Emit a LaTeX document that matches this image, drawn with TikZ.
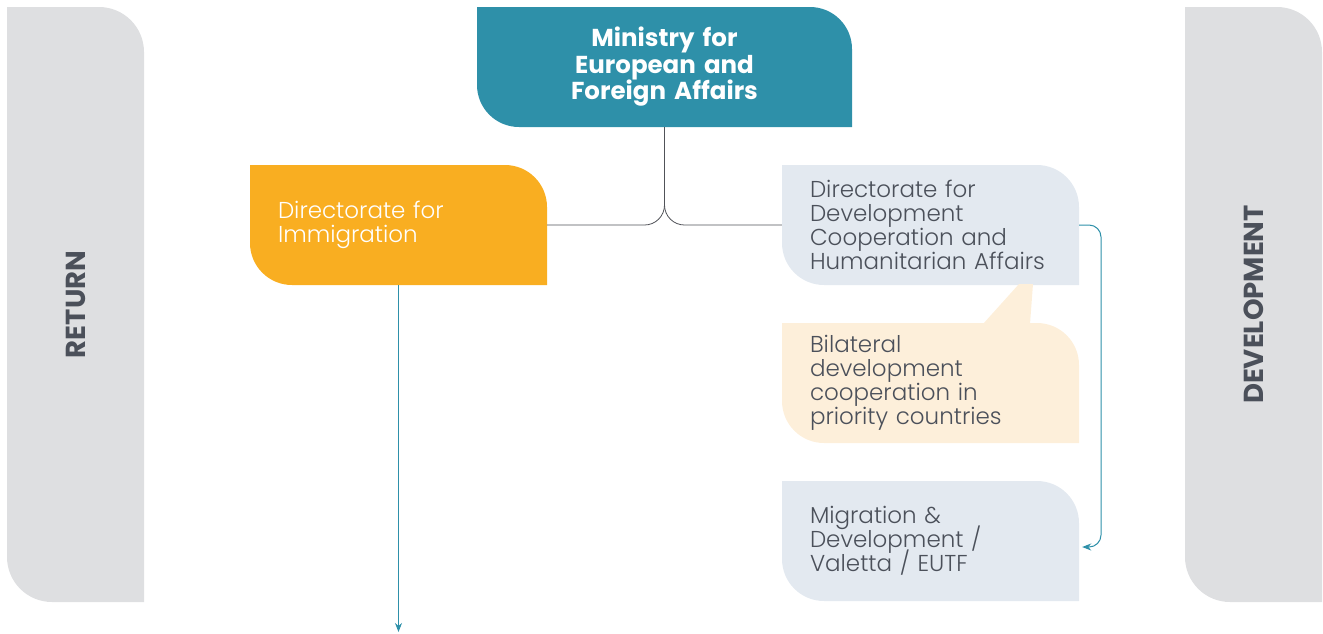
\documentclass[tikz,border=0pt]{standalone}
\usepackage{fontspec}
\setmainfont{Poppins}
\newfontfamily\lightf{Poppins Light}
\DeclareRobustCommand\bodyfont{\lightf\fontsize{23}{24}\selectfont\lineskiplimit=-20pt\relax}
\usepackage{graphicx}
\usetikzlibrary{arrows.meta}
\definecolor{cTeal}{HTML}{2E90A9}
\definecolor{cOrange}{HTML}{F9AE21}
\definecolor{cBlue}{HTML}{E3E9F0}
\definecolor{cCream}{HTML}{FDEFDA}
\definecolor{cBar}{HTML}{DEDFE1}
\definecolor{cText}{HTML}{4B505A}
\definecolor{cLine}{HTML}{505258}
\tikzset{
  bubble/.style n args={2}{rectangle, inner sep=0pt,
    path picture={\fill[#1] (path picture bounding box.north west)
      -- ([xshift=-#2]path picture bounding box.north east)
      arc[start angle=90,end angle=0,radius=#2]
      -- (path picture bounding box.south east)
      -- ([xshift=#2]path picture bounding box.south west)
      arc[start angle=270,end angle=180,radius=#2] -- cycle;}},
  unitbox/.style={bubble={#1}{42pt}, minimum width=297pt, minimum height=120pt,
    text width=241pt, inner xsep=28pt, align=left,
    font=\bodyfont, text=cText},
  sidebar/.style={bubble={cBar}{45pt}, minimum width=137pt, minimum height=595pt,
    font=\fontsize{27.5}{30}\selectfont\bfseries, text=cText},
  conn/.style={draw=cLine, line width=0.8pt},
  flow/.style={draw=cTeal, line width=1pt, -{Stealth[length=9pt,width=7pt]}}
}
\begin{document}
\begin{tikzpicture}[x=1pt,y=-1pt]
\useasboundingbox (0,0) rectangle (1323,633);
% side bars
\node[sidebar] (ret) at (75.5,304.5) {\rotatebox{90}{RETURN}};
\node[sidebar] (dvl) at (1253.5,304.5) {\rotatebox{90}{DEVELOPMENT}};
% ministry
\node[bubble={cTeal}{42pt}, minimum width=375pt, minimum height=120pt,
  text width=375pt, align=center, text=white,
  font=\fontsize{24.5}{26.5}\selectfont\bfseries] (min) at (664.5,67)
  {Ministry for\\European and\\Foreign Affairs};
% directorates
\node[unitbox=cOrange, text=white] (imm) at (398.5,225) {Directorate for\\Immigration};
\node[unitbox=cBlue] (dev) at (930.5,225) {Directorate for\\Development\\Cooperation and\\Humanitarian Affairs};
\fill[cCream] (983,324) -- (1019,284) -- (1033,284) -- (1030,324) -- cycle;
\node[unitbox=cCream] (bil) at (930.5,383) {Bilateral\\development\\cooperation in\\priority countries};
\node[unitbox=cBlue] (mig) at (930.5,541) {Migration \&\\Development /\\Valetta / EUTF};
% connectors
\coordinate (j) at (664.5,205);
\draw[conn] (min.south) -- (j);
\draw[conn] (imm.east) -- (644.5,225) to[out=0,in=-90] (j);
\draw[conn] (dev.west) -- (684.5,225) to[out=180,in=-90] (j);
\draw[flow, rounded corners=12pt] (dev.east) -- (1101,225) -- (1101,547) -- ([xshift=3pt,yshift=-6pt]mig.east);
\coordinate (down) at (398.5,632);
\draw[flow] (imm.south) -- (down);
\end{tikzpicture}
\end{document}
